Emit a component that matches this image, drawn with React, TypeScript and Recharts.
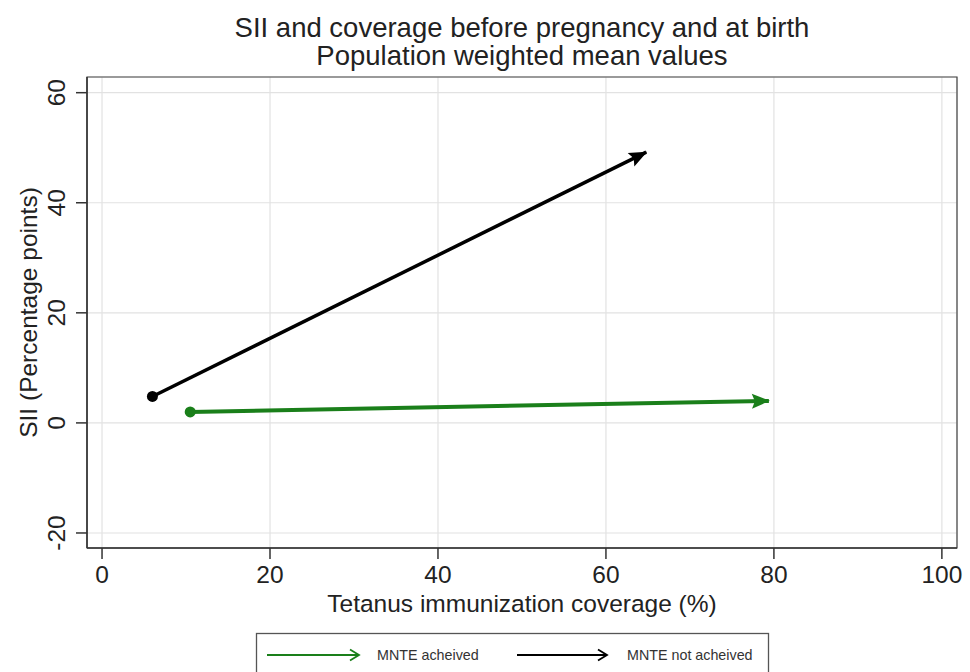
import { LineChart, Line, XAxis, YAxis, CartesianGrid, ReferenceArea } from 'recharts';

const achieved = [
  { x: 10.5, y: 2.0 },
  { x: 79.4, y: 4.0 },
];

const notAchieved = [
  { x: 6.0, y: 4.8 },
  { x: 64.8, y: 49.2 },
];

const xTicks = [0, 20, 40, 60, 80, 100];
const yTicks = [-20, 0, 20, 40, 60];

const GREEN = '#1a7f1a';
const FONT = '"Liberation Sans", Arial, sans-serif';
const X_DOMAIN = [-1.79, 101.8];
const Y_DOMAIN = [-22.73, 62.85];

const XTick = ({ x, y, payload }: any) => (
  <text x={x} y={y + 22} textAnchor="middle" fontSize={24.5} fill="#222" fontFamily={FONT}>
    {payload.value}
  </text>
);

const YTick = ({ y, payload }: any) => (
  <text transform={`translate(65,${y}) rotate(-90)`} textAnchor="middle" fontSize={24.5} fill="#222" fontFamily={FONT}>
    {payload.value}
  </text>
);

const StartDot = (color: string) => (props: any) => {
  const { cx, cy, index } = props;
  if (index !== 0) return <g key={`d-${index}`} />;
  return <circle key={`d-${index}`} cx={cx} cy={cy} r={5.5} fill={color} />;
};

export default function App() {
  return (
    <div style={{ position: 'absolute', left: 0, top: 0, width: 970, height: 672, background: '#fff' }}>
      <svg width={0} height={0} style={{ position: 'absolute' }}>
        <defs>
          <marker id="headBlack" markerUnits="userSpaceOnUse" markerWidth={22} markerHeight={20} refX={18} refY={10} orient="auto">
            <path d="M1,2.5 L19,10 L1,17.5 L4,10 Z" fill="#000" />
          </marker>
          <marker id="headGreen" markerUnits="userSpaceOnUse" markerWidth={22} markerHeight={20} refX={18} refY={10} orient="auto">
            <path d="M1,2.5 L19,10 L1,17.5 L4,10 Z" fill={GREEN} />
          </marker>
        </defs>
      </svg>
      <LineChart width={970} height={672} margin={{ top: 77, right: 13, bottom: 0, left: 0 }}>
        <CartesianGrid stroke="#e2e2e2" strokeWidth={1.2} />
        <ReferenceArea x1={X_DOMAIN[0]} x2={X_DOMAIN[1]} y1={Y_DOMAIN[0]} y2={Y_DOMAIN[1]} fill="none" fillOpacity={0} stroke="#444" strokeWidth={1.2} />
        <XAxis
          type="number"
          dataKey="x"
          domain={X_DOMAIN}
          ticks={xTicks}
          allowDataOverflow
          height={124}
          tickSize={11}
          tick={<XTick />}
          stroke="#333"
          strokeWidth={1.5}
          label={{
            content: () => (
              <text x={522} y={612} textAnchor="middle" fontSize={24.5} fill="#222" fontFamily={FONT}>
                Tetanus immunization coverage (%)
              </text>
            ),
          }}
        />
        <YAxis
          type="number"
          dataKey="y"
          domain={Y_DOMAIN}
          ticks={yTicks}
          allowDataOverflow
          width={87}
          tickSize={11}
          tick={<YTick />}
          stroke="#333"
          strokeWidth={1.5}
          label={{
            content: () => (
              <text transform="translate(37,312.5) rotate(-90)" textAnchor="middle" fontSize={24.5} fill="#222" fontFamily={FONT}>
                SII (Percentage points)
              </text>
            ),
          }}
        />
        <Line
          data={notAchieved}
          dataKey="y"
          stroke="#000"
          strokeWidth={3.5}
          dot={StartDot('#000')}
          activeDot={false}
          markerEnd="url(#headBlack)"
          isAnimationActive={false}
        />
        <Line
          data={achieved}
          dataKey="y"
          stroke={GREEN}
          strokeWidth={4}
          dot={StartDot(GREEN)}
          activeDot={false}
          markerEnd="url(#headGreen)"
          isAnimationActive={false}
        />
      </LineChart>
      <svg width={970} height={672} style={{ position: 'absolute', left: 0, top: 0, pointerEvents: 'none' }}>
        <g fontFamily={FONT} fill="#222">
          <text x={522} y={37} textAnchor="middle" fontSize={27.5}>
            SII and coverage before pregnancy and at birth
          </text>
          <text x={522} y={65} textAnchor="middle" fontSize={27.5}>
            Population weighted mean values
          </text>
        </g>
        <rect x={256.5} y={633.5} width={512} height={60} fill="#fff" stroke="#555" strokeWidth={1.3} />
        <line x1={267} y1={655} x2={359} y2={655} stroke={GREEN} strokeWidth={1.8} />
        <path d="M350,649.5 L359,655 L350,660.5" fill="none" stroke={GREEN} strokeWidth={1.8} />
        <text x={377} y={660} fontSize={14.3} fill="#333" fontFamily={FONT}>MNTE acheived</text>
        <line x1={517} y1={655} x2={607} y2={655} stroke="#000" strokeWidth={1.8} />
        <path d="M598,649.5 L607,655 L598,660.5" fill="none" stroke="#000" strokeWidth={1.8} />
        <text x={627} y={660} fontSize={14.3} fill="#333" fontFamily={FONT}>MNTE not acheived</text>
      </svg>
    </div>
  );
}
